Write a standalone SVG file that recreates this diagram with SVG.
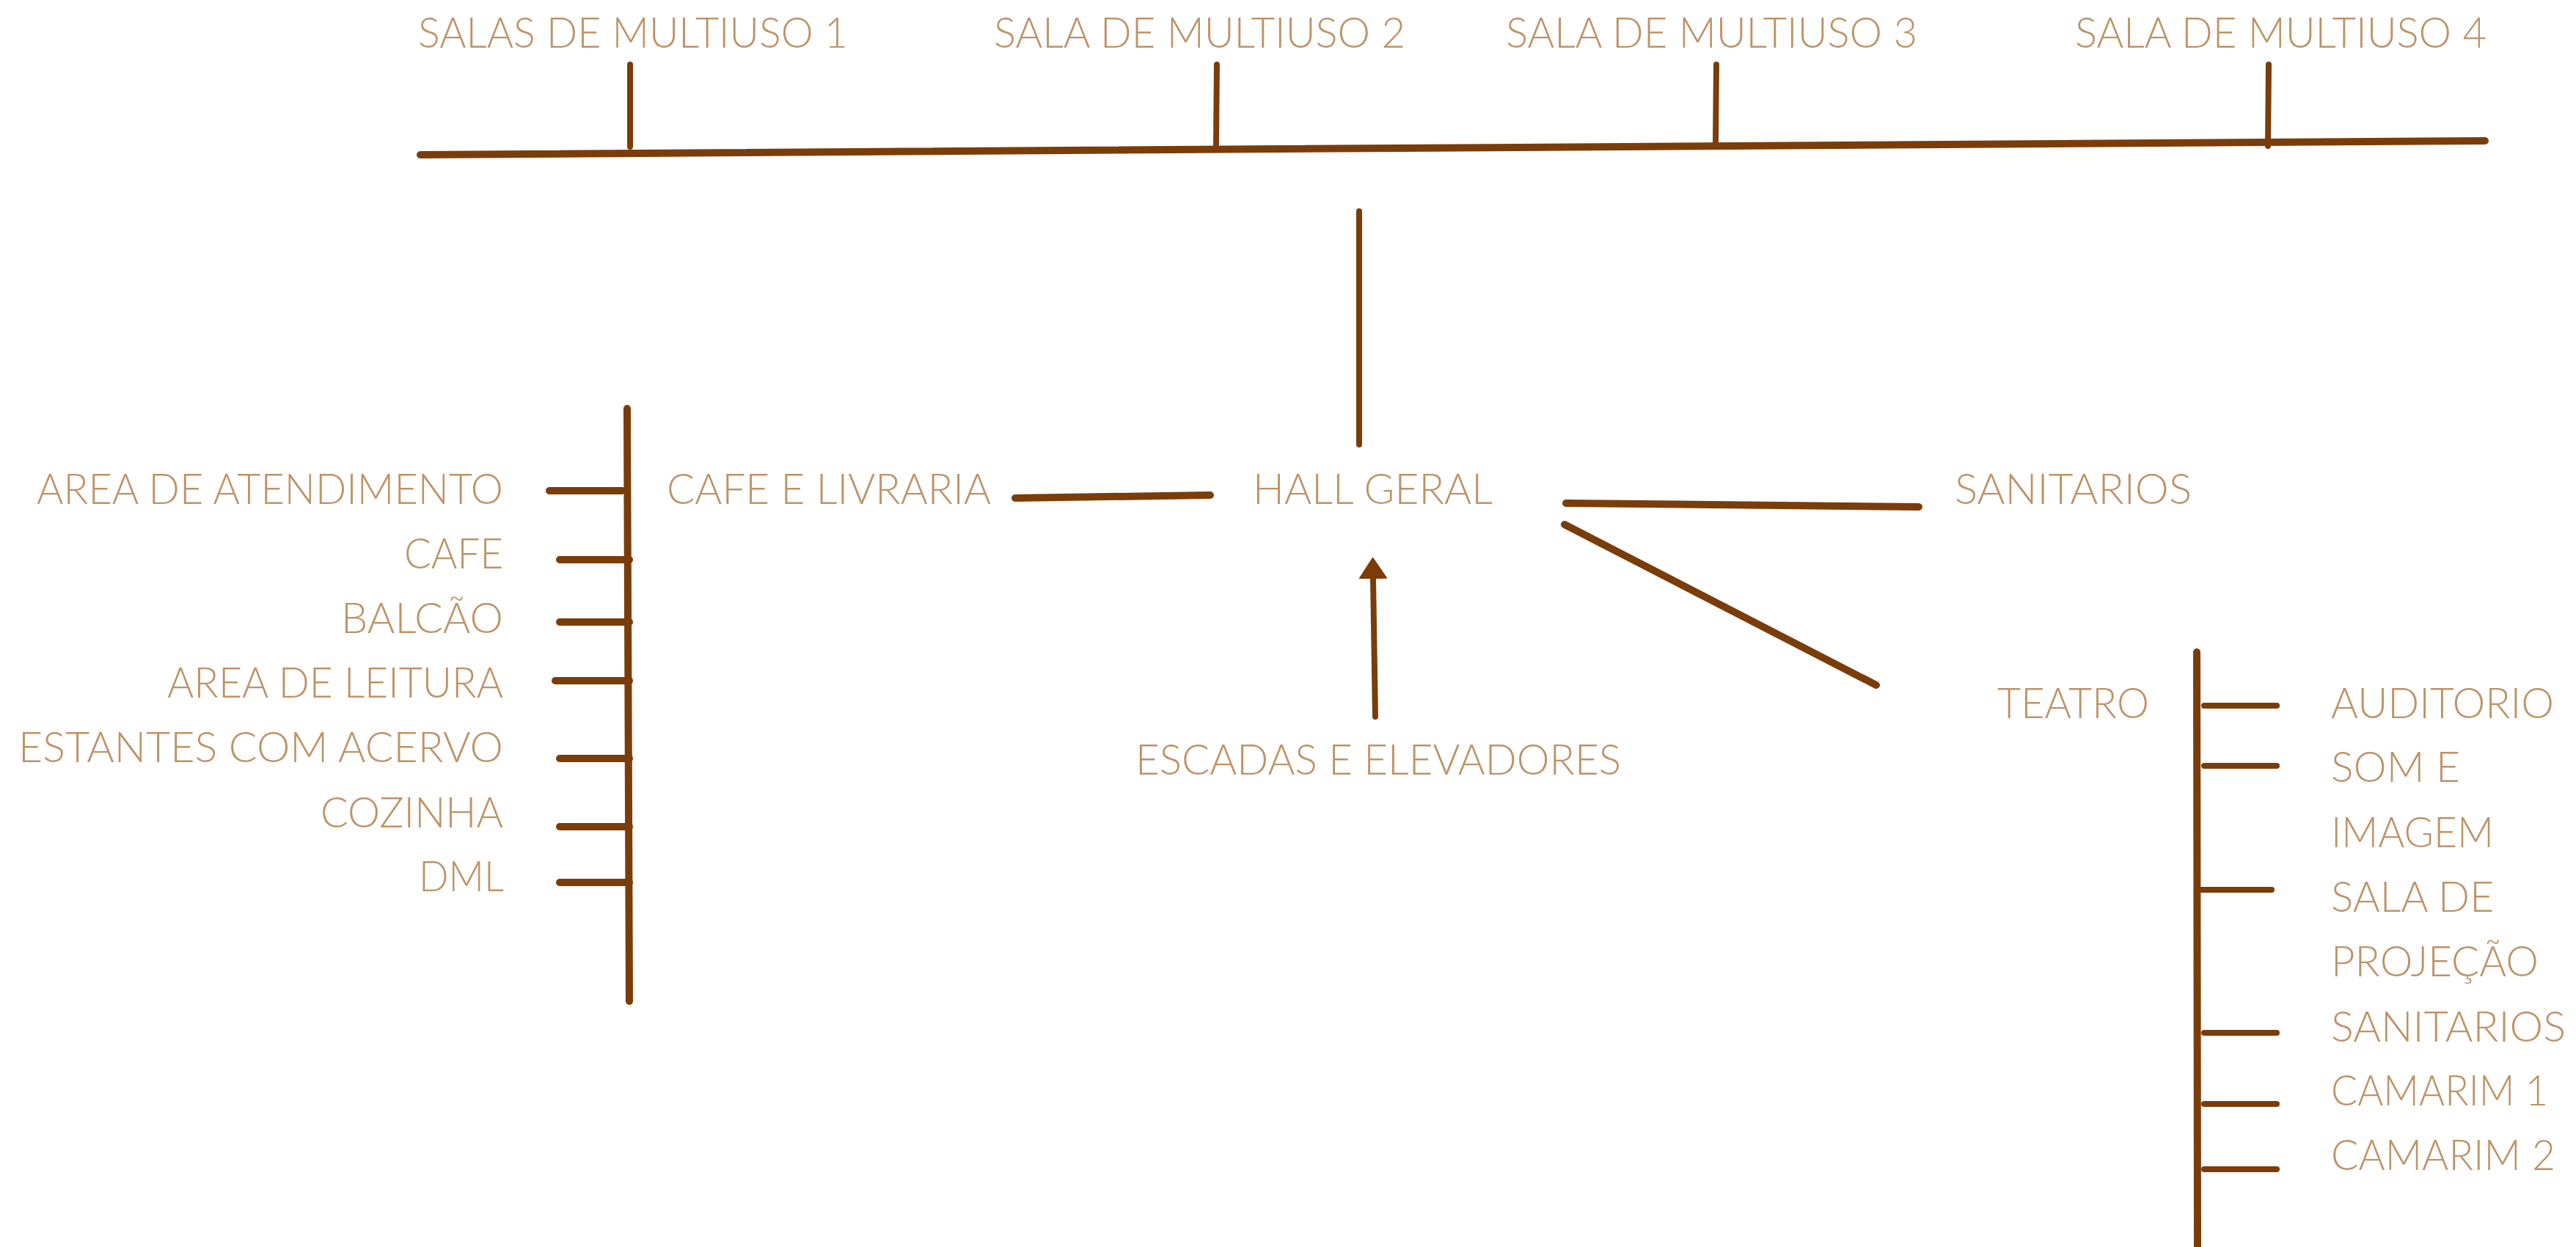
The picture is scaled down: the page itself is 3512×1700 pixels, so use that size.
<svg xmlns="http://www.w3.org/2000/svg" width="3512" height="1700" viewBox="0 0 3512 1700">
<style>
.t{font-family:Lato,"Liberation Sans",sans-serif;font-weight:300;font-size:58px;fill:#bd9367}
.c{stroke:#7a3d0a;stroke-linecap:round;fill:none}
.w10{stroke-width:10}
.w8{stroke-width:8}
</style>
<defs>
<marker id="ah" markerUnits="userSpaceOnUse" markerWidth="30" markerHeight="40" refX="1" refY="20" orient="auto" viewBox="0 0 30 40">
<path d="M1,2 L28,20 L1,38 Z" fill="#7a3d0a" stroke="#7a3d0a" stroke-width="2" stroke-linejoin="round"/>
</marker>
</defs>
<rect width="3512" height="1700" fill="#fff"/>
<g id="connectors">
<line class="c w10" x1="573" y1="211" x2="3388" y2="192"/>
<line class="c w8" x1="859" y1="88" x2="859" y2="200"/>
<line class="c w8" x1="1659" y1="88" x2="1658" y2="197"/>
<line class="c w8" x1="2340" y1="88" x2="2339" y2="194"/>
<line class="c w8" x1="3093" y1="88" x2="3092" y2="199"/>
<line class="c w8" x1="1853" y1="288" x2="1853" y2="606"/>
<line class="c w10" x1="1384" y1="679" x2="1650" y2="675"/>
<line class="c w10" x1="2135" y1="686" x2="2616" y2="691"/>
<line class="c w10" x1="2133" y1="715" x2="2558" y2="934"/>
<line class="c w8" x1="1875" y1="977" x2="1872" y2="788" marker-end="url(#ah)"/>
<line class="c w10" x1="855" y1="557" x2="858" y2="1365"/>
<line class="c w10" x1="749" y1="669" x2="848" y2="669"/>
<line class="c w10" x1="763" y1="763" x2="858" y2="763"/>
<line class="c w10" x1="763" y1="848" x2="858" y2="848"/>
<line class="c w10" x1="757" y1="928" x2="858" y2="928"/>
<line class="c w10" x1="763" y1="1034" x2="858" y2="1034"/>
<line class="c w10" x1="763" y1="1127" x2="858" y2="1127"/>
<line class="c w10" x1="763" y1="1203" x2="858" y2="1203"/>
<line class="c w10" x1="2995" y1="889" x2="2996" y2="1700"/>
<line class="c w8" x1="3005" y1="962" x2="3104" y2="962"/>
<line class="c w8" x1="3005" y1="1044" x2="3104" y2="1044"/>
<line class="c w8" x1="2998" y1="1213" x2="3097" y2="1213"/>
<line class="c w8" x1="3005" y1="1408" x2="3104" y2="1408"/>
<line class="c w8" x1="3005" y1="1505" x2="3104" y2="1505"/>
<line class="c w8" x1="3005" y1="1594" x2="3104" y2="1594"/>
</g>
<g id="multiuso1"><text class="t" x="570" y="65" textLength="586" lengthAdjust="spacingAndGlyphs">SALAS DE MULTIUSO 1</text></g>
<g id="multiuso2"><text class="t" x="1355" y="65" textLength="561" lengthAdjust="spacingAndGlyphs">SALA DE MULTIUSO 2</text></g>
<g id="multiuso3"><text class="t" x="2053" y="65" textLength="561" lengthAdjust="spacingAndGlyphs">SALA DE MULTIUSO 3</text></g>
<g id="multiuso4"><text class="t" x="2829" y="65" textLength="561" lengthAdjust="spacingAndGlyphs">SALA DE MULTIUSO 4</text></g>
<g id="hall"><text class="t" x="1708" y="687" textLength="327" lengthAdjust="spacingAndGlyphs">HALL GERAL</text></g>
<g id="cafe-livraria"><text class="t" x="909" y="687" textLength="442" lengthAdjust="spacingAndGlyphs">CAFE E LIVRARIA</text></g>
<g id="sanitarios"><text class="t" x="2665" y="687" textLength="323" lengthAdjust="spacingAndGlyphs">SANITARIOS</text></g>
<g id="escadas"><text class="t" x="1548" y="1056" textLength="662" lengthAdjust="spacingAndGlyphs">ESCADAS E ELEVADORES</text></g>
<g id="teatro"><text class="t" x="2723" y="979" textLength="207" lengthAdjust="spacingAndGlyphs">TEATRO</text></g>
<g id="cafe-items">
<text class="t" x="50" y="687" textLength="636" lengthAdjust="spacingAndGlyphs">AREA DE ATENDIMENTO</text>
<text class="t" x="551" y="775" textLength="135" lengthAdjust="spacingAndGlyphs">CAFE</text>
<text class="t" x="465" y="863" textLength="221" lengthAdjust="spacingAndGlyphs">BALCÃO</text>
<text class="t" x="228" y="951" textLength="458" lengthAdjust="spacingAndGlyphs">AREA DE LEITURA</text>
<text class="t" x="25" y="1039" textLength="661" lengthAdjust="spacingAndGlyphs">ESTANTES COM ACERVO</text>
<text class="t" x="437" y="1128" textLength="249" lengthAdjust="spacingAndGlyphs">COZINHA</text>
<text class="t" x="571" y="1215" textLength="116" lengthAdjust="spacingAndGlyphs">DML</text>
</g>
<g id="teatro-items">
<text class="t" x="3178" y="979" textLength="304" lengthAdjust="spacingAndGlyphs">AUDITORIO</text>
<text class="t" x="3178" y="1066" textLength="176" lengthAdjust="spacingAndGlyphs">SOM E</text>
<text class="t" x="3178" y="1155" textLength="222" lengthAdjust="spacingAndGlyphs">IMAGEM</text>
<text class="t" x="3178" y="1243" textLength="222" lengthAdjust="spacingAndGlyphs">SALA DE</text>
<text class="t" x="3178" y="1331" textLength="283" lengthAdjust="spacingAndGlyphs">PROJEÇÃO</text>
<text class="t" x="3178" y="1420" textLength="320" lengthAdjust="spacingAndGlyphs">SANITARIOS</text>
<text class="t" x="3178" y="1507" textLength="296" lengthAdjust="spacingAndGlyphs">CAMARIM 1</text>
<text class="t" x="3178" y="1595" textLength="306" lengthAdjust="spacingAndGlyphs">CAMARIM 2</text>
</g>
</svg>
